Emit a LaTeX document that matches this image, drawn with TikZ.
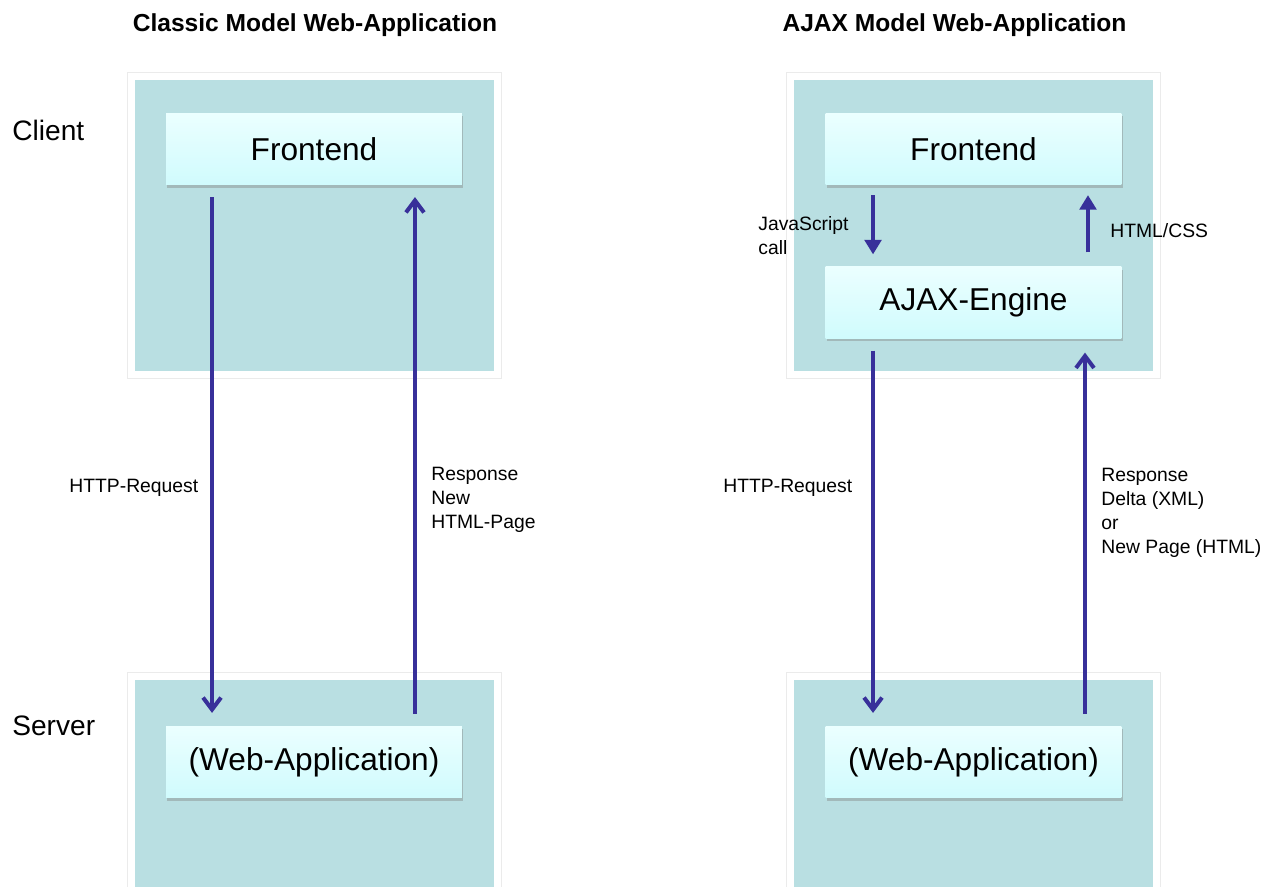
\documentclass[tikz,border=0pt]{standalone}
\usepackage{fontspec}
\setmainfont{Liberation Sans}
\usepackage{tikz}
\usetikzlibrary{positioning,calc,shadows,arrows.meta}
\definecolor{panelteal}{HTML}{B9DFE2}
\definecolor{boxtop}{HTML}{EBFFFF}
\definecolor{boxbottom}{HTML}{D0FBFD}
\definecolor{arrowblue}{HTML}{38309A}

\tikzset{
	panel/.style={rectangle, fill=panelteal, draw=white, line width=3.97pt, preaction={draw=black!8, line width=5.2pt}, minimum width=7.31cm, minimum height=5.96cm, inner sep=0pt},
	box/.style={rectangle, top color=boxtop, bottom color=boxbottom, minimum width=5.92cm, minimum height=1.43cm, font=\fontsize{18}{22}\selectfont, drop shadow={shadow xshift=0.6pt, shadow yshift=-1.6pt, opacity=0.4}},
	longarrow/.style={arrowblue, line width=2.3pt, -{Straight Barb[length=2.4mm, width=3.6mm]}},
	shortarrow/.style={arrowblue, line width=2.3pt, -{Triangle[length=2.9mm, width=3.3mm]}},
	ttl/.style={font=\bfseries\fontsize{14}{16}\selectfont, inner sep=0pt},
	side/.style={font=\fontsize{16}{19}\selectfont, inner sep=0pt, anchor=west},
	lbl/.style={font=\fontsize{11}{13.6}\selectfont, align=left, inner sep=0pt, anchor=west}
}

\begin{document}
\begin{tikzpicture}[x=0.02cm, y=-0.02cm]
		
		\useasboundingbox (0,0) rectangle (1284,886);
		\clip (0,0) rectangle (1284,886);
		
		% classic model
		\node[ttl] (TL) at (315,25) {Classic Model Web-Application};
		\node[side] (client) at (12,130) {Client};
		\node[side] (server) at (12,726) {Server};
		
		\node[panel] (CL) at (314.5,225.5) {};
		\node[panel] (SL) at (314.5,825.5) {};
		\node[box] (FL) at (314,149) {Frontend};
		\node[box] (WL) at (314,762) {(Web-Application)};
		
		\draw[longarrow] ([xshift=-2.04cm,yshift=-0.24cm]FL.south) -- ([xshift=-2.04cm,yshift=0.26cm]WL.north);
		\draw[longarrow] ([xshift=2.02cm,yshift=0.24cm]WL.north) -- ([xshift=2.02cm,yshift=-0.24cm]FL.south);
		
		\node[lbl] (reqL) at (69,488) {HTTP-Request};
		\node[lbl] (resL) at (431,500) {Response\\New\\HTML-Page};
		
		% ajax model
		\node[ttl] (TR) at (954.5,25) {AJAX Model Web-Application};
		
		\node[panel] (CR) at (973.5,225.5) {};
		\node[panel] (SR) at (973.5,825.5) {};
		\node[box] (FR) at (973.5,149) {Frontend};
		\node[box] (AE) at (973.5,302.5) {AJAX-Engine};
		\node[box] (WR) at (973.5,762) {(Web-Application)};
		
		\draw[shortarrow] ([xshift=-2.01cm,yshift=-0.2cm]FR.south) -- ([xshift=-2.01cm,yshift=0.24cm]AE.north);
		\draw[shortarrow] ([xshift=2.29cm,yshift=0.28cm]AE.north) -- ([xshift=2.29cm,yshift=-0.2cm]FR.south);
		\draw[longarrow] ([xshift=-2.01cm,yshift=-0.24cm]AE.south) -- ([xshift=-2.01cm,yshift=0.26cm]WR.north);
		\draw[longarrow] ([xshift=2.23cm,yshift=0.24cm]WR.north) -- ([xshift=2.23cm,yshift=-0.28cm]AE.south);
		
		\node[lbl] (js) at (758,236) {JavaScript\\call};
		\node[lbl] (css) at (1110,231) {HTML/CSS};
		\node[lbl] (reqR) at (723,488) {HTTP-Request};
		\node[lbl] (resR) at (1101,513) {Response\\Delta (XML)\\or\\New Page (HTML)};
		
		\end{tikzpicture}
\end{document}
